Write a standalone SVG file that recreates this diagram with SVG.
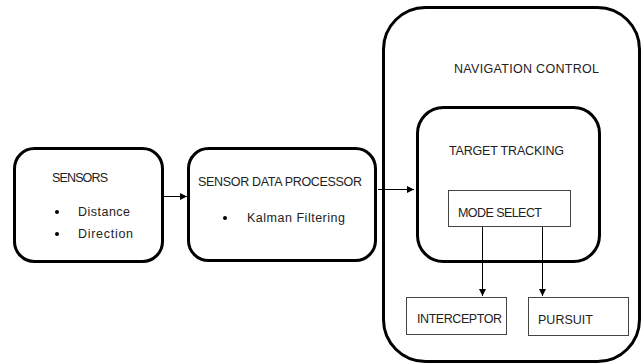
<svg xmlns="http://www.w3.org/2000/svg" width="642" height="364" viewBox="0 0 642 364">
<defs>
<style>
.rb{fill:#fff;stroke:#000;stroke-width:3}
.sb{fill:#fff;stroke:#444;stroke-width:1}
.t{font-family:"Liberation Sans",Arial,sans-serif;font-size:12.5px;fill:#222}
.c{stroke:#000;stroke-width:1;fill:none}
</style>
<marker id="ah" markerWidth="8" markerHeight="8" refX="7" refY="4" orient="auto" markerUnits="userSpaceOnUse">
<path d="M0,0.5 L7,4 L0,7.5 Z" fill="#000"/>
</marker>
</defs>
<rect width="642" height="364" fill="#fff"/>
<g id="sensors">
<rect class="rb" x="14.5" y="148.5" width="148" height="113" rx="20"/>
<text class="t" x="52" y="182" textLength="56">SENSORS</text>
<circle cx="57" cy="212" r="2" fill="#000"/>
<text class="t" x="78" y="216" textLength="52">Distance</text>
<circle cx="57" cy="234" r="2" fill="#000"/>
<text class="t" x="78" y="238" textLength="55">Direction</text>
</g>
<g id="sensor-data-processor">
<rect class="rb" x="188.5" y="148.5" width="187" height="112" rx="20"/>
<text class="t" x="198" y="186" textLength="164">SENSOR DATA PROCESSOR</text>
<circle cx="225" cy="218" r="2" fill="#000"/>
<text class="t" x="247" y="222" textLength="98">Kalman Filtering</text>
</g>
<g id="navigation-control">
<rect class="rb" x="383.5" y="7.5" width="256" height="354" rx="42"/>
<text class="t" x="454" y="73" textLength="145">NAVIGATION CONTROL</text>
</g>
<g id="target-tracking">
<rect class="rb" x="417.5" y="107.5" width="182" height="154" rx="26"/>
<text class="t" x="449" y="155" textLength="115">TARGET TRACKING</text>
</g>
<g id="mode-select">
<rect class="sb" x="448.5" y="190.5" width="122" height="36"/>
<text class="t" x="458" y="217" textLength="84">MODE SELECT</text>
</g>
<g id="interceptor">
<rect class="sb" x="406.5" y="297.5" width="100" height="37"/>
<text class="t" x="417" y="323" textLength="85">INTERCEPTOR</text>
</g>
<g id="pursuit">
<rect class="sb" x="528.5" y="297.5" width="100" height="38"/>
<text class="t" x="538" y="324" textLength="55">PURSUIT</text>
</g>
<g id="connectors">
<line class="c" x1="164" y1="196.5" x2="187" y2="196.5" marker-end="url(#ah)"/>
<line class="c" x1="378" y1="189.5" x2="414" y2="189.5" marker-end="url(#ah)"/>
<line class="c" x1="482.5" y1="227" x2="482.5" y2="296" marker-end="url(#ah)"/>
<line class="c" x1="542.5" y1="227" x2="542.5" y2="296" marker-end="url(#ah)"/>
</g>
</svg>
